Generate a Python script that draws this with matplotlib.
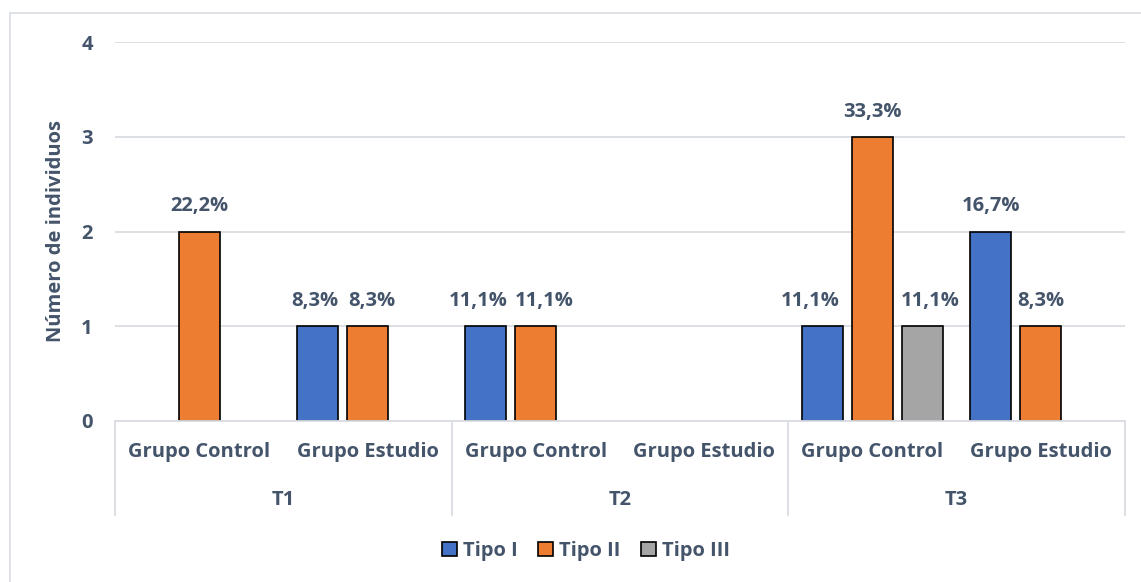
import matplotlib
matplotlib.use("Agg")
import matplotlib.pyplot as plt
from matplotlib.patches import Rectangle, Patch
import matplotlib.transforms as mtransforms

plt.rcParams['font.family'] = ['Open Sans', 'DejaVu Sans']

groups = ["T1", "T2", "T3"]
categories = ["Grupo Control", "Grupo Estudio"] * 3
series = ["Tipo I", "Tipo II", "Tipo III"]
tipo1 = [0, 1, 1, 0, 1, 2]
tipo2 = [2, 1, 1, 0, 3, 1]
tipo3 = [0, 0, 0, 0, 1, 0]
lab1 = ["", "8,3%", "11,1%", "", "11,1%", "16,7%"]
lab2 = ["22,2%", "8,3%", "11,1%", "", "33,3%", "8,3%"]
lab3 = ["", "", "", "", "11,1%", ""]
yticks = [0, 1, 2, 3, 4]

# horizontal nudges of data labels (pixels), as placed in the original
nudge1 = [0, -3, -8, 0, -12, 0]
nudge2 = [0, 4, 8, 0, 0, 0]
nudge3 = [0, 0, 0, 0, 8, 0]

colors = ["#4472C4", "#ED7D31", "#A5A5A5"]
txt = "#44546A"
grid = "#D9DDE3"
FS = 14.5

W, H = 1141, 582
fig = plt.figure(figsize=(W / 100, H / 100), dpi=100)
fig.patches.append(Rectangle((10 / W, -0.01), 1.1, 1 - 13 / H + 0.01, transform=fig.transFigure,
                             fill=False, edgecolor="#D9DDE3", linewidth=1.2))

ax = fig.add_axes([115 / W, 1 - 421 / H, (1125 - 115) / W, (421 - 42) / H])
ax.set_xlim(-0.5, 5.5)
ax.set_ylim(0, 4)
for s in ax.spines.values():
    s.set_visible(False)
ax.set_yticks(yticks)
ax.set_yticklabels([str(v) for v in yticks], fontsize=FS, fontweight='bold', color=txt)
ax.tick_params(axis='y', length=0, pad=16)
ax.set_xticks([])
ax.yaxis.grid(True, color=grid, linewidth=1.3)
ax.set_axisbelow(True)

bw = 0.2436
off = 0.297
x = list(range(len(categories)))
allv = [tipo1, tipo2, tipo3]
alll = [lab1, lab2, lab3]
alln = [nudge1, nudge2, nudge3]
for i, (vals, labs, nud) in enumerate(zip(allv, alll, alln)):
    pts = [(xi + (i - 1) * off, v, l, n) for xi, v, l, n in zip(x, vals, labs, nud) if v > 0]
    bars = ax.bar([p[0] for p in pts], [p[1] for p in pts], width=bw, color=colors[i],
                  edgecolor="black", linewidth=1.2, zorder=3)
    for b, (_, v, l, n) in zip(bars, pts):
        if l:
            ax.annotate(l, (b.get_x() + b.get_width() / 2, v), xytext=(n * 0.72, 18),
                        textcoords='offset points', ha='center', va='center',
                        fontsize=FS, fontweight='bold', color=txt)

ax.set_ylabel("Número de individuos", fontsize=FS, fontweight='bold', color=txt, labelpad=11)

trans = mtransforms.blended_transform_factory(ax.transData, ax.transAxes)
ax.plot([-0.5, 5.5], [0, 0], transform=trans, color=grid, linewidth=1.3, clip_on=False, zorder=4)
ybot = -(515 - 421) / 379
for sx in [-0.5, 1.5, 3.5, 5.5]:
    ax.plot([sx, sx], [0, ybot], transform=trans, color=grid, linewidth=1.3, clip_on=False)
ycat = -(452 - 421) / 379
for xi, c in zip(x, categories):
    ax.text(xi, ycat, c, transform=trans, ha='center', va='center', fontsize=FS,
            fontweight='bold', color=txt)
ygrp = -(500 - 421) / 379
for gi, g in enumerate(groups):
    ax.text(2 * gi + 0.5, ygrp, g, transform=trans, ha='center', va='center', fontsize=FS,
            fontweight='bold', color=txt)

handles = [Patch(facecolor=c, edgecolor="black", linewidth=1.2) for c in colors]
fig.legend(handles, series, loc='center', bbox_to_anchor=(586 / W, 1 - 551 / H), ncol=3,
           frameon=False, handlelength=0.75, handleheight=0.75, handletextpad=0.3,
           columnspacing=1.0, prop={'size': FS, 'weight': 'bold'}, labelcolor=txt)

fig.savefig("out.png", dpi=100)
